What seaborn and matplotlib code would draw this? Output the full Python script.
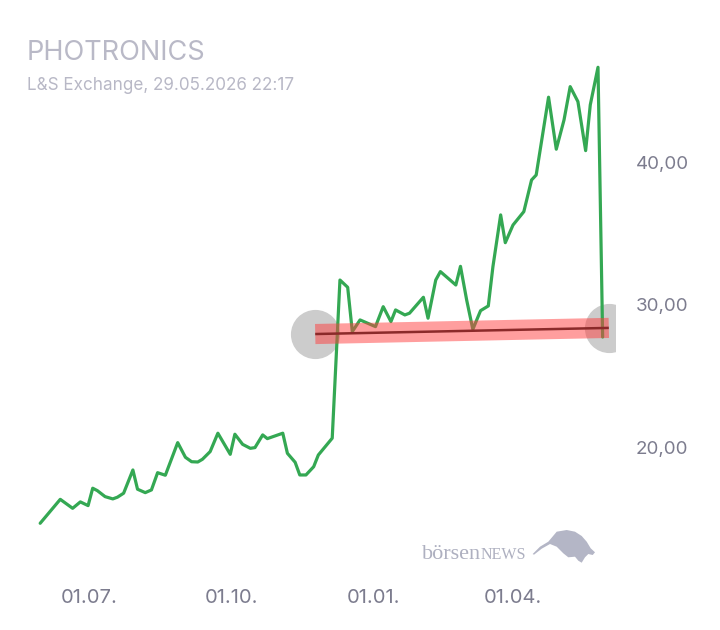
import matplotlib
matplotlib.use("Agg")
import matplotlib.pyplot as plt
from matplotlib.patches import Polygon
import pandas as pd
import seaborn as sns

# ---------------- data ----------------
dates = [
    "2025-05-30", "2025-06-12", "2025-06-20", "2025-06-25", "2025-06-30",
    "2025-07-03", "2025-07-06", "2025-07-11", "2025-07-16", "2025-07-19",
    "2025-07-23", "2025-07-29", "2025-08-01", "2025-08-06", "2025-08-10",
    "2025-08-14", "2025-08-19", "2025-08-27", "2025-09-01", "2025-09-05",
    "2025-09-09", "2025-09-12", "2025-09-17", "2025-09-22", "2025-09-30",
    "2025-10-03", "2025-10-08", "2025-10-13", "2025-10-16", "2025-10-21",
    "2025-10-24", "2025-11-03", "2025-11-06", "2025-11-11", "2025-11-14",
    "2025-11-18", "2025-11-23", "2025-11-26", "2025-12-05", "2025-12-10",
    "2025-12-15", "2025-12-18", "2025-12-23", "2026-01-02", "2026-01-07",
    "2026-01-12", "2026-01-15", "2026-01-21", "2026-01-24", "2026-02-02",
    "2026-02-05", "2026-02-10", "2026-02-13", "2026-02-23", "2026-02-26",
    "2026-03-02", "2026-03-06", "2026-03-11", "2026-03-16", "2026-03-19",
    "2026-03-24", "2026-03-27", "2026-04-01", "2026-04-08", "2026-04-13",
    "2026-04-16", "2026-04-24", "2026-04-29", "2026-05-04", "2026-05-08",
    "2026-05-13", "2026-05-18", "2026-05-21", "2026-05-26", "2026-05-29",
]
prices = [
    14.68, 16.36, 15.73, 16.18, 15.92,
    17.14, 16.97, 16.55, 16.39, 16.51,
    16.79, 18.42, 17.07, 16.83, 17.02,
    18.23, 18.05, 20.34, 19.31, 19.00,
    18.98, 19.17, 19.71, 21.00, 19.52,
    20.93, 20.22, 19.94, 19.99, 20.88,
    20.62, 21.00, 19.59, 18.96, 18.07,
    18.07, 18.65, 19.47, 20.65, 31.75,
    31.24, 28.13, 28.95, 28.48, 29.88,
    28.83, 29.65, 29.30, 29.42, 30.54,
    29.07, 31.75, 32.34, 31.40, 32.71,
    30.35, 28.29, 29.60, 29.93, 32.69,
    36.32, 34.37, 35.61, 36.55, 38.77,
    39.12, 44.58, 40.93, 42.98, 45.32,
    44.27, 40.83, 44.04, 46.68, 27.75,
]
trend_dates = ["2025-11-24", "2026-06-02"]
trend_values = [27.96, 28.39]

x_tick_dates = ["2025-07-01", "2025-10-01", "2026-01-01", "2026-04-01"]
x_tick_labels = ["01.07.", "01.10.", "01.01.", "01.04."]
y_ticks = [20, 30, 40]
y_tick_labels = ["20,00", "30,00", "40,00"]

title = "PHOTRONICS"
subtitle = "L&S Exchange, 29.05.2026 22:17"

# ---------------- style ----------------
sns.set_theme(style="white")
plt.rcParams["font.family"] = ["Inter", "DejaVu Sans"]

W, H = 720, 630
fig = plt.figure(figsize=(W / 100, H / 100), dpi=100)
ax = fig.add_axes([0, 1 - 575 / H, 615 / W, (575 - 60) / H])

df = pd.DataFrame({"date": pd.to_datetime(dates), "price": prices})
tdf = pd.DataFrame({"date": pd.to_datetime(trend_dates), "value": trend_values})

# gray end circles of trend
ax.plot(tdf["date"], tdf["value"], linestyle="none", marker="o", markersize=37,
        markerfacecolor="#cccccc", markeredgecolor="white", markeredgewidth=1.6,
        zorder=1, clip_on=True)

sns.lineplot(data=df, x="date", y="price", ax=ax, color="#34a853", linewidth=2.3,
             zorder=2)

# red trend band and dark trend line
ax.plot(tdf["date"], tdf["value"], color="#ff3e3e", alpha=0.5, linewidth=14.5,
        solid_capstyle="butt", zorder=3)
ax.plot(tdf["date"], tdf["value"], color="#8b2a2a", linewidth=1.8,
        solid_capstyle="butt", zorder=4)

ax.set_xlim(pd.Timestamp("2025-05-04"), pd.Timestamp("2026-06-06"))
ax.set_ylim(11.05, 47.19)

ax.set_xticks(pd.to_datetime(x_tick_dates))
ax.set_xticklabels(x_tick_labels)
ax.set_yticks(y_ticks)
ax.set_yticklabels(y_tick_labels)
ax.yaxis.tick_right()
ax.tick_params(axis="x", length=0, pad=10, labelsize=14.5, labelcolor="#7c7c8e")
ax.tick_params(axis="y", length=0, pad=15, labelsize=13.5, labelcolor="#7c7c8e")
ax.set_xlabel("")
ax.set_ylabel("")
for s in ax.spines.values():
    s.set_visible(False)
ax.grid(False)
ax.set_facecolor("none")

# titles
fig.text(27 / W, 1 - 53 / H, title, fontsize=19.5, color="#b9b9c7", va="center", ha="left")
fig.text(27 / W, 1 - 86 / H, subtitle, fontsize=12.3, color="#b8b8c6", va="center", ha="left")

# watermark
fig.text(422 / W, 1 - 559 / H, "börsen", fontsize=16, color="#aeb0c0",
         family=["Liberation Serif", "DejaVu Serif"], va="baseline", ha="left")
fig.text(481 / W, 1 - 559 / H, "NEWS", fontsize=11.5, color="#aeb0c0",
         family=["Liberation Serif", "DejaVu Serif"], va="baseline", ha="left")
bull = [(532.7, 554), (540, 546.7), (548.3, 541.7), (556.7, 531.7), (566.7, 530),
        (575, 531.7), (581.7, 536), (586.7, 541.7), (590.7, 548.3), (595, 552.3),
        (592.7, 555), (588.3, 554), (585, 557.3), (581.7, 562.7), (578.3, 560.7),
        (575, 556.7), (568.3, 557.3), (563.3, 553.3), (556.7, 546.7), (550, 544),
        (541.7, 548.7), (534, 554.7)]
fig.patches.append(Polygon([(x / W, 1 - y / H) for x, y in bull], closed=True,
                           transform=fig.transFigure, facecolor="#b4b6c6",
                           edgecolor="none"))

fig.savefig("out.png", dpi=100)
